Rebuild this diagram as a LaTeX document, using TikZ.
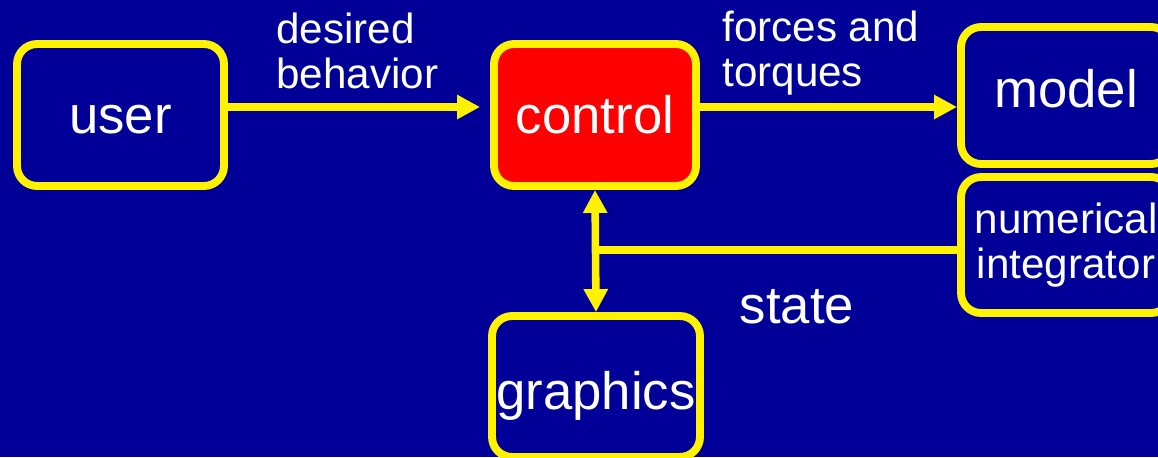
\documentclass[tikz,border=0pt]{standalone}
\usepackage{fontspec}
\setmainfont{Liberation Sans}
\usepackage{xcolor}
\definecolor{navy}{RGB}{0,0,153}
\usepackage{tikz}
\usetikzlibrary{positioning, arrows.meta, backgrounds}

\begin{document}
\begin{tikzpicture}[x=0.02cm, y=-0.02cm,
		blk/.style={rectangle, rounded corners=0.4cm, draw=yellow, line width=4.5pt, fill=navy, text=white, font=\fontsize{30}{32}\selectfont, align=center, inner sep=0pt},
		lbl/.style={text=white, font=\fontsize{24}{26}\selectfont, align=left, inner sep=0pt},
		link/.style={draw=yellow, line width=4.3pt},
		>={Triangle[length=0.46cm, width=0.46cm]}
		]
		
			\fill[navy] (0,0) rectangle (1158,457);
			\useasboundingbox (0,0) rectangle (1158,457);
			
			\node[blk, minimum width=4.14cm, minimum height=2.84cm, text height=0.75cm] (user) at (120.5, 115) {user};
			\node[blk, fill=red, minimum width=4.04cm, minimum height=2.84cm] (ctrl) at (595, 115) {control};
			\node[blk, minimum width=4.2cm, minimum height=2.74cm, text depth=0.3cm] (model) at (1066, 95.5) {model};
			\node[blk, minimum width=4.2cm, minimum height=2.72cm, font=\fontsize{24}{26}\selectfont] (numer) at (1066, 245) {numerical\\integrator};
			\node[blk, minimum width=4.16cm, minimum height=2.82cm, text height=1.15cm] (gfx) at (596, 386.5) {graphics};
	
			% levels of the connectors
			\coordinate (fwd) at (0, 107);
			\coordinate (tap) at (0, 250);
	
			\draw[link, ->, shorten >=0.2cm] (user.east |- fwd) to (ctrl.west |- fwd);
			\draw[link, ->] (ctrl.east |- fwd) to (model.west |- fwd);
			\draw[link, <->] (ctrl.south) to (gfx.north);
			\draw[link] (numer.west |- tap) to (ctrl.south |- tap);
			
			\node[lbl, anchor=west] (desire) at (276, 51) {desired\\behavior};
			\node[lbl, anchor=west] (force) at (722, 53) {forces and\\torques};
			\node[lbl, font=\fontsize{30}{32}\selectfont] (state) at (797, 307) {state};
			\end{tikzpicture}
\end{document}
